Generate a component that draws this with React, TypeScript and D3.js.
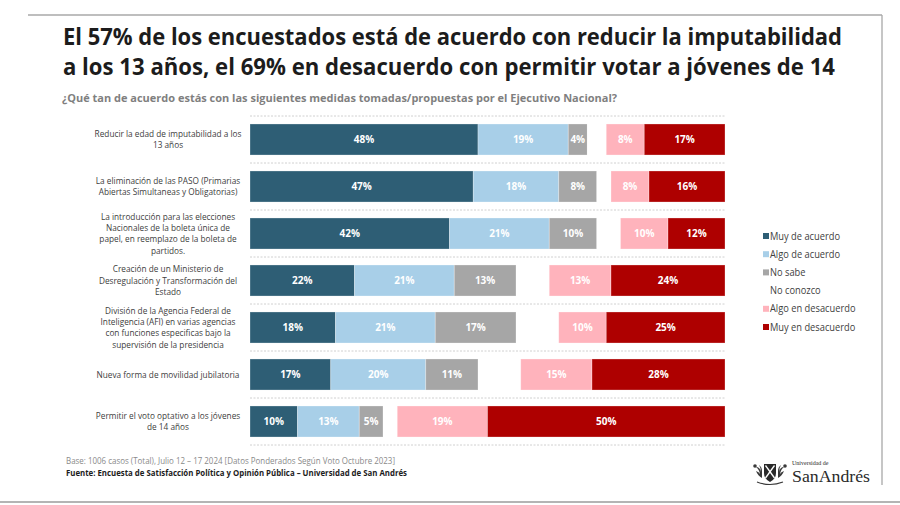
import React from "react";
import * as d3 from "d3";

const categories: string[][] = [
  ["Reducir la edad de imputabilidad a los", "13 años"],
  ["La eliminación de las PASO (Primarias", "Abiertas Simultaneas y Obligatorias)"],
  ["La introducción para las elecciones", "Nacionales de la boleta única de", "papel, en reemplazo de la boleta de", "partidos."],
  ["Creación de un Ministerio de", "Desregulación y Transformación del", "Estado"],
  ["División de la Agencia Federal de", "Inteligencia (AFI) en varias agencias", "con funciones especificas bajo la", "supervisión de la presidencia"],
  ["Nueva forma de movilidad jubilatoria"],
  ["Permitir el voto optativo a los jóvenes", "de 14 años"],
];

const seriesNames = ["Muy de acuerdo", "Algo de acuerdo", "No sabe", "No conozco", "Algo en desacuerdo", "Muy en desacuerdo"];
const muyAcuerdo = [48, 47, 42, 22, 18, 17, 10];
const algoAcuerdo = [19, 18, 21, 21, 21, 20, 13];
const noSabe = [4, 8, 10, 13, 17, 11, 5];
const noConozco = [4, 3, 5, 7, 9, 9, 3];
const algoDesacuerdo = [8, 8, 10, 13, 10, 15, 19];
const muyDesacuerdo = [17, 16, 12, 24, 25, 28, 50];

const colors = ["#2e5e75", "#a8cfe8", "#a6a6a6", "#ffffff", "#ffb3bc", "#ae0000"];
const showLegendSwatch = [true, true, true, false, true, true];
const showValueLabel = [true, true, true, false, true, true];

const titleLines = [
  "El 57% de los encuestados está de acuerdo con reducir la imputabilidad",
  "a los 13 años, el 69% en desacuerdo con permitir votar a jóvenes de 14",
];
const subtitle = "¿Qué tan de acuerdo estás con las siguientes medidas tomadas/propuestas por el Ejecutivo Nacional?";
const baseNote = "Base: 1006 casos (Total), Julio 12 – 17 2024 [Datos Ponderados Según Voto Octubre 2023]";
const sourceNote = "Fuente: Encuesta de Satisfacción Política y Opinión Pública – Universidad de San Andrés";

const FONT = "'Open Sans', 'Noto Sans', sans-serif";

export default function App() {
  const W = 900, H = 505;
  const series = [muyAcuerdo, algoAcuerdo, noSabe, noConozco, algoDesacuerdo, muyDesacuerdo];
  const rows = categories.map((c, i) => {
    const o: Record<string, number> = { idx: i };
    seriesNames.forEach((s, k) => (o[s] = series[k][i]));
    return o;
  });
  const stacked = d3.stack<Record<string, number>>().keys(seriesNames)(rows);

  const x = d3.scaleLinear().domain([0, 100]).range([250, 725]);
  const y = d3
    .scaleBand<number>()
    .domain(categories.map((_, i) => i))
    .range([116, 445])
    .paddingInner(0.34)
    .paddingOuter(0.17);
  const step = y.step();
  const separators = d3.range(categories.length + 1).map((i) => 116 + i * step);

  const legendY = d3.scaleLinear().domain([0, 5]).range([236, 327]);

  return (
    <svg
      width={W}
      height={H}
      viewBox={`0 0 ${W} ${H}`}
      style={{ position: "absolute", left: 0, top: 0, background: "#fff" }}
    >
      {/* frame */}
      <line x1={28} x2={882} y1={15} y2={15} stroke="#a8a8a8" strokeWidth={1.3} />
      <line x1={882} x2={882} y1={15} y2={485} stroke="#a8a8a8" strokeWidth={1.3} />
      <line x1={0} x2={900} y1={502} y2={502} stroke="#b4b4b4" strokeWidth={2} />

      {/* title */}
      {titleLines.map((t, i) => (
        <text
          key={i}
          x={63}
          y={45 + i * 30}
          fontFamily={FONT}
          fontWeight={700}
          fontSize={23}
          fill="#1c1c1c"
          textLength={i === 0 ? 779 : 772}
          lengthAdjust="spacingAndGlyphs"
        >
          {t}
        </text>
      ))}
      <text
        x={62}
        y={102}
        fontFamily={FONT}
        fontWeight={700}
        fontSize={10.5}
        fill="#7f7f7f"
        textLength={555}
        lengthAdjust="spacingAndGlyphs"
      >
        {subtitle}
      </text>

      {/* separators */}
      {separators.map((sy, i) => (
        <line
          key={i}
          x1={250}
          x2={725}
          y1={sy}
          y2={sy}
          stroke="#c4c4c4"
          strokeWidth={0.8}
          strokeDasharray="2,1.5"
        />
      ))}

      {/* bars */}
      {stacked.map((layer, k) => (
        <g key={layer.key}>
          {layer.map((d, i) => {
            const x0 = x(d[0]);
            const x1 = x(d[1]);
            const by = y(i) as number;
            const bh = y.bandwidth();
            return (
              <g key={i}>
                <rect
                  x={x0}
                  y={by}
                  width={Math.max(0, x1 - x0)}
                  height={bh}
                  fill={colors[k]}
                  stroke={k === 3 ? "none" : "#ffffff"}
                  strokeOpacity={0.35}
                  strokeWidth={0.8}
                />
                {showValueLabel[k] && (
                  <text
                    x={(x0 + x1) / 2}
                    y={by + bh / 2 + 3.6}
                    textAnchor="middle"
                    fontFamily={FONT}
                    fontWeight={700}
                    fontSize={10}
                    fill="#ffffff"
                  >
                    {`${series[k][i]}%`}
                  </text>
                )}
              </g>
            );
          })}
        </g>
      ))}

      {/* category labels */}
      {categories.map((lines, i) => {
        const cy = (y(i) as number) + y.bandwidth() / 2;
        const lh = 11.4;
        const top = cy - ((lines.length - 1) * lh) / 2 + 3.2;
        return (
          <g key={i}>
            {lines.map((ln, j) => (
              <text
                key={j}
                transform={`translate(168,${top + j * lh}) scale(0.92,1)`}
                textAnchor="middle"
                fontFamily={FONT}
                fontSize={9}
                fill="#404040"
              >
                {ln}
              </text>
            ))}
          </g>
        );
      })}

      {/* legend */}
      {seriesNames.map((s, k) => (
        <g key={s}>
          {showLegendSwatch[k] && (
            <rect x={763} y={legendY(k) - 3} width={6} height={6} fill={colors[k]} />
          )}
          <text
            transform={`translate(770,${legendY(k) + 3.5}) scale(0.93,1)`}
            fontFamily={FONT}
            fontSize={10}
            fill="#404040"
          >
            {s}
          </text>
        </g>
      ))}

      {/* footer */}
      <text
        x={66}
        y={464}
        fontFamily={FONT}
        fontSize={8.5}
        fill="#8a8a8a"
        textLength={329}
        lengthAdjust="spacingAndGlyphs"
      >
        {baseNote}
      </text>
      <text
        x={66}
        y={476}
        fontFamily={FONT}
        fontWeight={700}
        fontSize={8.5}
        fill="#1c1c1c"
        textLength={341}
        lengthAdjust="spacingAndGlyphs"
      >
        {sourceNote}
      </text>

      {/* logo */}
      <g>
        <path d="M764,464 h12 v9 q0,6 -6,9 q-6,-3 -6,-9 z" fill="#2a2a2a" />
        <line x1={765.5} y1={465.5} x2={774.5} y2={478} stroke="#fff" strokeWidth={1.3} />
        <line x1={774.5} y1={465.5} x2={765.5} y2={478} stroke="#fff" strokeWidth={1.3} />
        <path d="M762,478 q-4,-2 -6,-7 q3,1 4,3 q-1,-5 -4,-7 q4,0 5,5 q0,-4 -2,-7 q3,2 3,6 z" fill="#3a3a3a" />
        <path d="M778,478 q4,-2 6,-7 q-3,1 -4,3 q1,-5 4,-7 q-4,0 -5,5 q0,-4 2,-7 q-3,2 -3,6 z" fill="#3a3a3a" />
        <path d="M757,482 q13,5 26,0" fill="none" stroke="#3a3a3a" strokeWidth={1.2} />
        <circle cx={755} cy={466} r={1.8} fill="#3a3a3a" />
        <circle cx={785} cy={466} r={1.8} fill="#3a3a3a" />
        <text
          x={792}
          y={465}
          fontFamily="'Liberation Serif', 'DejaVu Serif', serif"
          fontSize={6}
          fill="#2a2a2a"
        >
          Universidad de
        </text>
        <text
          x={792}
          y={482}
          fontFamily="'Liberation Serif', 'DejaVu Serif', serif"
          fontSize={17}
          fill="#2a2a2a"
          textLength={78}
          lengthAdjust="spacingAndGlyphs"
        >
          SanAndrés
        </text>
      </g>
    </svg>
  );
}
